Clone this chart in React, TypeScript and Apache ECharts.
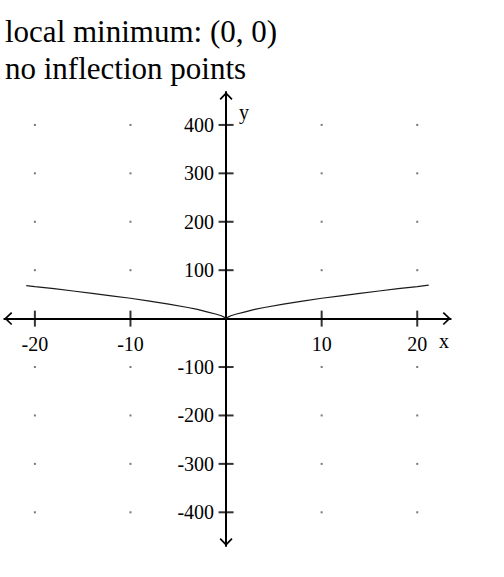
import { useEffect, useRef } from "react";
import * as echarts from "echarts";

// Tick positions on both axes
const xTicks = [-20, -10, 10, 20];
const yTicks = [-400, -300, -200, -100, 100, 200, 300, 400];

// Sampled points of the plotted curve
const curveX = [-20.9, -20, -18, -16, -14, -12, -10, -8, -6, -4, -3, -2, -1, -0.5, -0.2, 0, 0.2, 0.5, 1, 2, 3, 4, 6, 8, 10, 12, 14, 16, 18, 20, 21.2];
const curveY = [68, 66, 62, 57, 52, 47, 42, 36, 30, 23, 19, 14, 9, 6, 3, 0, 3, 6, 9, 14, 19, 23, 30, 36, 42, 47, 52, 57, 62, 66, 69];

// Caption lines above the plot
const captionLines = ["local minimum: (0, 0)", "no inflection points"];

// Open chevron (points up; ECharts rotates it along the axis)
const CHEVRON = "path://M6.5 0 L13 6.8 L11.8 8 L6.5 2.4 L1.2 8 L0 6.8 Z";

const SERIF = '"Liberation Serif", "Times New Roman", serif';

// Plot box (pixels)
const GRID = { left: 4.3, right: 53.3, top: 92, bottom: 31 };
const X_MIN = -23.2;
const X_MAX = 23.5;
const Y_MIN = -469.6;
const Y_MAX = 468;

export default function App() {
  const ref = useRef<HTMLDivElement>(null);

  useEffect(() => {
    const chart = echarts.init(ref.current!, null, { renderer: "svg" });
    const width = 504;
    const height = 577;
    const plotW = width - GRID.left - GRID.right;
    const plotH = height - GRID.top - GRID.bottom;

    // Shift the axes so that they cross at the origin
    const yAxisShift = ((0 - X_MIN) / (X_MAX - X_MIN)) * plotW;
    const xAxisShift = ((0 - Y_MIN) / (Y_MAX - Y_MIN)) * plotH;

    const dots: number[][] = [];
    for (const x of xTicks) for (const y of yTicks) dots.push([x, y]);

    chart.setOption({
      animation: false,
      grid: { ...GRID, containLabel: false, outerBoundsMode: "none" },
      xAxis: {
        type: "value",
        min: X_MIN,
        max: X_MAX,
        position: "bottom",
        offset: -xAxisShift,
        axisLine: {
          onZero: false,
          lineStyle: { color: "#000", width: 2 },
          symbol: [CHEVRON, CHEVRON],
          symbolSize: [13, 8],
          symbolOffset: [4, -4],
        },
        axisTick: { show: false },
        splitLine: { show: false },
        axisLabel: {
          customValues: xTicks,
          margin: 15,
          fontFamily: SERIF,
          fontSize: 20,
          color: "#000",
        },
      },
      yAxis: {
        type: "value",
        min: Y_MIN,
        max: Y_MAX,
        position: "left",
        offset: -yAxisShift,
        axisLine: {
          onZero: false,
          lineStyle: { color: "#000", width: 2 },
          symbol: [CHEVRON, CHEVRON],
          symbolSize: [13, 8],
          symbolOffset: [4, -4],
        },
        axisTick: { show: false },
        splitLine: { show: false },
        axisLabel: {
          customValues: yTicks,
          margin: 12,
          fontFamily: SERIF,
          fontSize: 20,
          color: "#000",
          padding: [5, 0, 0, 0],
        },
      },
      graphic: [
        {
          type: "text",
          x: 5,
          y: 31,
          style: { text: captionLines[0], font: `31px ${SERIF}`, fill: "#000", verticalAlign: "middle" },
        },
        {
          type: "text",
          x: 5,
          y: 68,
          style: { text: captionLines[1], font: `31px ${SERIF}`, fill: "#000", verticalAlign: "middle" },
        },
        {
          type: "text",
          x: 444,
          y: 341,
          style: { text: "x", font: `20px ${SERIF}`, fill: "#000", align: "center", verticalAlign: "middle" },
        },
        {
          type: "text",
          x: 244,
          y: 112,
          style: { text: "y", font: `20px ${SERIF}`, fill: "#000", align: "center", verticalAlign: "middle" },
        },
      ],
      series: [
        {
          type: "scatter",
          data: dots,
          symbol: "rect",
          symbolSize: 2,
          itemStyle: { color: "#555" },
          silent: true,
        },
        {
          type: "scatter",
          data: xTicks.map((x) => [x, 0]),
          symbol: "rect",
          symbolSize: [2, 16],
          itemStyle: { color: "#000" },
          silent: true,
        },
        {
          type: "scatter",
          data: yTicks.map((y) => [0, y]),
          symbol: "rect",
          symbolSize: [15, 2],
          itemStyle: { color: "#000" },
          silent: true,
        },
        {
          type: "line",
          data: curveX.map((x, i) => [x, curveY[i]]),
          showSymbol: false,
          lineStyle: { color: "#1a1a1a", width: 1.2 },
          silent: true,
        },
      ],
    });

    return () => chart.dispose();
  }, []);

  return (
    <div
      ref={ref}
      style={{ position: "fixed", left: 0, top: 0, width: 504, height: 577, background: "#fff" }}
    />
  );
}
